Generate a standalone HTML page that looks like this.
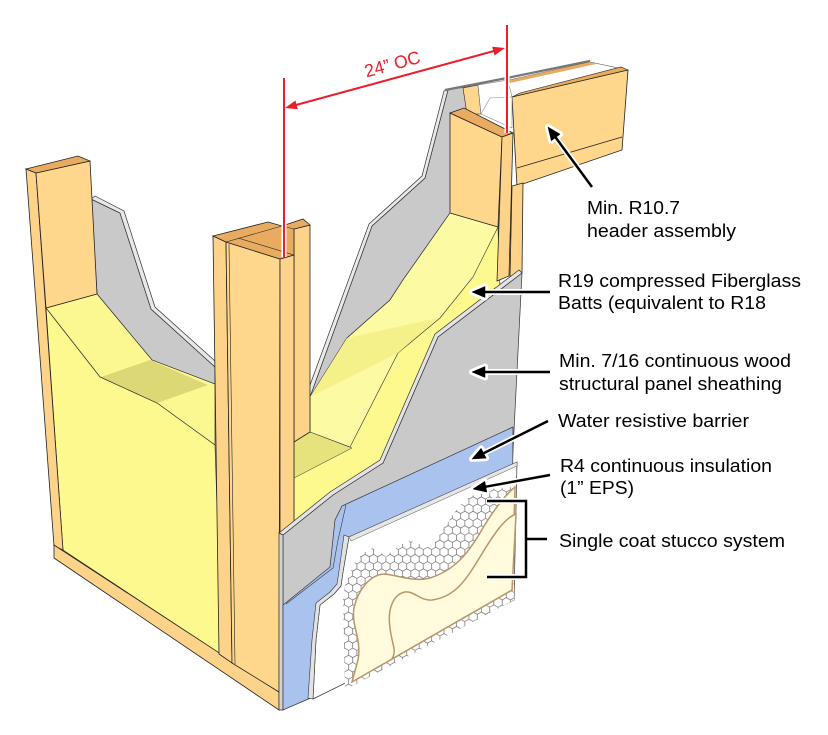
<!DOCTYPE html>
<html><head><meta charset="utf-8"><style>
html,body{margin:0;padding:0;background:#fff;}
svg{display:block;}
text{font-family:"Liberation Sans",Arial,sans-serif;}
</style></head><body>
<svg width="828" height="735" viewBox="0 0 828 735" xmlns="http://www.w3.org/2000/svg">
<defs>
<pattern id="hex" width="8.3" height="14.4" patternUnits="userSpaceOnUse">
<rect width="8.3" height="14.4" fill="#fff"/>
<path d="M0,2.4 L4.15,0 L8.3,2.4 L8.3,7.2 L4.15,9.6 L0,7.2 Z M4.15,9.6 L4.15,14.4" fill="none" stroke="#555" stroke-width="0.6"/>
</pattern>
</defs>
<rect width="828" height="735" fill="#fff"/>

<!-- left cavity gray back -->
<polygon points="91,199 120,213 151,309 215,367 215,392 152,360 97,294" fill="#C9C9C9" stroke="#333" stroke-width="0.7"/>
<polygon points="91,199 95,196 124,211 155,307 215,361 215,367 151,309 120,213" fill="#E8E8E8" stroke="#333" stroke-width="0.7"/>

<!-- left yellow batt -->
<polygon points="46,308 97,294 152,360 215,384 215,445 157,403 100,377" fill="#FCF891" stroke="#333" stroke-width="0.7"/>
<polygon points="101,377 150,360 208,385 157,403" fill="#DCD876"/>
<polygon points="46,308 100,377 157,403 215,445 222,655 63,550" fill="#FDF98F" stroke="#333" stroke-width="0.7"/>

<!-- left stud -->
<polygon points="26,169 36,173 63,550 54,546" fill="#FDD38A" stroke="#222" stroke-width="0.8"/>
<polygon points="36,173 90,161 97,294 46,308" fill="#FED68C" stroke="#222" stroke-width="0.8"/>
<polygon points="26,169 78,156 90,161 36,173" fill="#E8AB60" stroke="#222" stroke-width="0.8"/>

<!-- bottom plate -->
<polygon points="54,545 279,692 279,710 54,558" fill="#FDD38A" stroke="#222" stroke-width="0.8"/>

<!-- right cavity gray back -->
<polygon points="448,90 470,86 470,213 450,213 403,280 390,300 347,338 310,397 372,226 425,178" fill="#C9C9C9" stroke="#333" stroke-width="0.7"/>
<polygon points="444,91 448,90 425,178 372,226 310,397 306,396 369,224 422,176" fill="#EAEAEA" stroke="#333" stroke-width="0.7"/>
<polyline points="445,90 507,78 590,61" fill="none" stroke="#777" stroke-width="2.2"/>

<!-- header -->
<polygon points="505,81 590,62 628,70 512,97" fill="#fff" stroke="#444" stroke-width="0.6"/>
<polygon points="505,81 590,62 596,64 510,83" fill="#E8AB60"/>
<polygon points="512,97 520,93 621,67 628,70" fill="#E8AB60" stroke="#222" stroke-width="0.6"/>
<polygon points="512,97 628,70 622,150 517,186" fill="#FED68C" stroke="#222" stroke-width="0.8"/>
<line x1="517" y1="168" x2="622" y2="137" stroke="#222" stroke-width="0.8"/>
<polygon points="463,88 478,85 481,114 467,114" fill="#FED68C" stroke="#222" stroke-width="0.6"/>
<polygon points="478,85 508,80 512,97 512,128 481,114" fill="#fff" stroke="#666" stroke-width="0.5"/>
<polyline points="481,114 490,98 512,97" stroke="#888" fill="none" stroke-width="0.6"/>
<polygon points="512,186 523,183 522,273 510,277" fill="#FDD38A" stroke="#222" stroke-width="0.8"/>

<!-- right yellow batt -->
<polygon points="450,213 498,227 500,290 440,345 385,470 335,500 294,540 294,442 310,432 310,397 347,338 390,300 403,280" fill="#FDF98F" stroke="#333" stroke-width="0.7"/>
<polygon points="450,213 498,227 473,277 440,318 398,353 350,447 310,432 310,397 347,338 390,300 403,280" fill="#FDFAA4" stroke="#333" stroke-width="0.6"/>
<polygon points="347,338 438,318 398,353 310,397" fill="#F5F18A"/>
<polygon points="294,442 310,432 352,448 294,478" fill="#E6E27C" stroke="#333" stroke-width="0.5"/>

<!-- right stud -->
<polygon points="450,113 502,137 498,227 450,213" fill="#FED68C" stroke="#222" stroke-width="0.8"/>
<polygon points="450,113 464,108 513,133 502,137" fill="#E8AB60" stroke="#222" stroke-width="0.8"/>
<polygon points="502,137 513,133 509,276 497,281" fill="#FDD38A" stroke="#222" stroke-width="0.8"/>

<!-- center double stud -->
<polygon points="294,229 310,225 310,432 294,442" fill="#FDD38A" stroke="#222" stroke-width="0.8"/>
<polygon points="213,236 226,242 232,663 219,654" fill="#FDD38A" stroke="#222" stroke-width="0.8"/>
<polygon points="226,242 280,259 279,692 232,663" fill="#FED68C" stroke="#222" stroke-width="0.8"/>
<line x1="229" y1="244" x2="235" y2="664" stroke="#222" stroke-width="0.6"/>
<polygon points="280,259 294,255 294,527 280,534" fill="#FDD38A" stroke="#222" stroke-width="0.8"/>
<polygon points="213,236 268,222 282,226 303,219 310,225 294,229 294,255 280,259 226,242" fill="#E8AB60" stroke="#222" stroke-width="0.8"/>
<polyline points="226,242 282,226 294,229" fill="none" stroke="#222" stroke-width="0.6"/>
<polyline points="238,238 294,255" fill="none" stroke="#222" stroke-width="0.6"/>

<!-- front sheathing -->
<polygon points="283,535 333,495 383,463 438,337 522,273 512,470 283,710" fill="#C9C9C9" stroke="#333" stroke-width="0.7"/>
<polygon points="279,533 330,492 380,460 435,334 519,270 522,273 438,337 383,463 333,495 283,535" fill="#E4E4E4" stroke="#333" stroke-width="0.7"/>
<polygon points="279,533 283,535 283,710 279,710" fill="#D2D2D2" stroke="#333" stroke-width="0.7"/>

<!-- WRB -->
<polygon points="513,427 342,506 335,520 330,567 283,605 283,710 313,697 512,590" fill="#A9C3EE" stroke="#333" stroke-width="0.7"/>
<polyline points="346,505 338,540 333,568 286,604" fill="none" stroke="#333" stroke-width="0.6"/>

<!-- EPS -->
<polygon points="349,537 517,462 514,600 313,699 316,640 320,605 334,594 341,586 343,572" fill="#fff" stroke="#333" stroke-width="0.7"/>
<polygon points="344,535 349,537 343,572 341,586 334,594 320,605 316,640 313,699 308,698 312,640 316,603 330,592 337,584 339,571" fill="#E2E2E2" stroke="#333" stroke-width="0.6"/>
<polygon points="349,537 517,462 517,466 351,541" fill="#E6E6E6" stroke="#555" stroke-width="0.5"/>

<!-- mesh -->
<polygon points="343,600 345,585 350,573 356,560 365,552 372,548 380,552 386,557 392,551 400,545 410,541 418,543 425,548 432,545 437,540 442,530 447,524 452,516 458,508 465,500 472,496 480,492 490,489 500,488 512,487 514,600 345,690" fill="url(#hex)"/>

<!-- stucco -->
<path d="M515,487 C505,495 492,512 480,533 C468,553 455,570 430,578 C415,582 400,576 385,574 C370,574 358,590 354,608 C351,625 362,640 358,660 L352,682 L512,590 Z" fill="#FFFBDC" stroke="#B8976A" stroke-width="1.5"/>
<path d="M516,514 C505,518 495,532 480,557 C466,580 455,597 432,600 C420,601 415,591 405,592 C394,594 387,608 390,628 C392,645 397,650 392,659 L512,590 Z" fill="#FFFBDC" stroke="#B8976A" stroke-width="1.5"/>

<!-- red dimension -->
<g stroke="#fff" stroke-width="5" fill="none">
<line x1="284" y1="78" x2="284" y2="257"/>
<line x1="507" y1="25" x2="507" y2="133"/>
</g>
<g stroke="#E8202A" stroke-width="2" fill="none">
<line x1="284" y1="78" x2="284" y2="257"/>
<line x1="507" y1="25" x2="507" y2="133"/>
<line x1="296" y1="105" x2="494" y2="51"/>
</g>
<polygon points="285,108 297.8,109.2 295.4,100.5" fill="#E8202A"/>
<polygon points="505,48 494.6,55.5 492.2,46.8" fill="#E8202A"/>
<text transform="translate(394,70) rotate(-15.3)" text-anchor="middle" font-size="18" fill="#E8202A" textLength="57" lengthAdjust="spacingAndGlyphs">24” OC</text>

<!-- arrows: white halo -->
<g stroke="#fff" stroke-width="6" fill="#fff" stroke-linejoin="round">
<line x1="592" y1="187" x2="555.7" y2="137.5"/>
<polygon points="548,127 560.1,134.2 551.3,140.8"/>
<line x1="550" y1="292" x2="485" y2="292"/>
<polygon points="472,292 485,286.5 485,297.5"/>
<line x1="550" y1="372" x2="485" y2="372"/>
<polygon points="472,372 485,366.5 485,377.5"/>
<line x1="548" y1="421" x2="483.6" y2="453.2"/>
<polygon points="472,459 486.1,458.1 481.1,448.3"/>
<line x1="550" y1="475" x2="485.8" y2="486.7"/>
<polygon points="473,489 486.8,492.1 484.8,481.3"/>
<polyline points="487,501 526,501 526,577 487,577" fill="none"/>
<line x1="526" y1="539" x2="547" y2="539"/>
</g>
<g stroke="#000" stroke-width="2.5" fill="#000">
<line x1="592" y1="187" x2="555.7" y2="137.5"/>
<polygon points="548,127 560.1,134.2 551.3,140.8" stroke-width="0.5"/>
<line x1="550" y1="292" x2="485" y2="292"/>
<polygon points="472,292 485,286.5 485,297.5" stroke-width="0.5"/>
<line x1="550" y1="372" x2="485" y2="372"/>
<polygon points="472,372 485,366.5 485,377.5" stroke-width="0.5"/>
<line x1="548" y1="421" x2="483.6" y2="453.2"/>
<polygon points="472,459 486.1,458.1 481.1,448.3" stroke-width="0.5"/>
<line x1="550" y1="475" x2="485.8" y2="486.7"/>
<polygon points="473,489 486.8,492.1 484.8,481.3" stroke-width="0.5"/>
<polyline points="487,501 526,501 526,577 487,577" fill="none"/>
<line x1="526" y1="539" x2="547" y2="539"/>
</g>

<!-- labels -->
<g font-size="18" fill="#000">
<text x="587" y="214" textLength="93" lengthAdjust="spacingAndGlyphs">Min. R10.7</text>
<text x="587" y="237" textLength="149" lengthAdjust="spacingAndGlyphs">header assembly</text>
<text x="558" y="287" textLength="243" lengthAdjust="spacingAndGlyphs">R19 compressed Fiberglass</text>
<text x="558" y="309" textLength="208" lengthAdjust="spacingAndGlyphs">Batts (equivalent to R18</text>
<text x="559" y="367" textLength="232" lengthAdjust="spacingAndGlyphs">Min. 7/16 continuous wood</text>
<text x="559" y="390" textLength="223" lengthAdjust="spacingAndGlyphs">structural panel sheathing</text>
<text x="558" y="427" textLength="191" lengthAdjust="spacingAndGlyphs">Water resistive barrier</text>
<text x="560" y="472" textLength="212" lengthAdjust="spacingAndGlyphs">R4 continuous insulation</text>
<text x="560" y="494" textLength="74" lengthAdjust="spacingAndGlyphs">(1” EPS)</text>
<text x="559" y="547" textLength="226" lengthAdjust="spacingAndGlyphs">Single coat stucco system</text>
</g>
</svg>
</body></html>
